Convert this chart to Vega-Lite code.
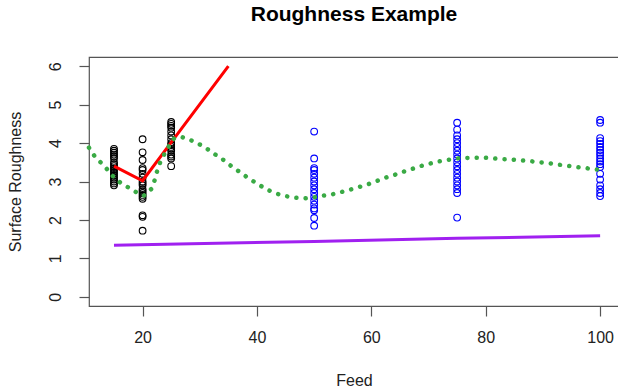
{
  "$schema": "https://vega.github.io/schema/vega-lite/v6.json",
  "autosize": "none",
  "width": 530,
  "height": 249,
  "padding": {"left": 89, "top": 57, "right": 0, "bottom": 86},
  "background": "white",
  "config": {
    "font": "Liberation Sans",
    "view": {"stroke": "#555555", "strokeWidth": 1.2},
    "axis": {"grid": false, "domain": false, "tickColor": "#555555", "tickSize": 10, "tickWidth": 1.2,
             "labelFont": "Liberation Sans", "labelFontSize": 16, "labelColor": "#222222",
             "titleFont": "Liberation Sans", "titleFontSize": 16, "titleFontWeight": "normal", "titleColor": "#222222"}
  },
  "title": {"text": "Roughness Example", "fontSize": 21, "fontWeight": "bold", "font": "Liberation Sans", "color": "#000000", "offset": 32, "anchor": "middle"},
  "datasets": {
    "pts": [
      {"feed": 15, "rough": 3.85, "grp": "a"}, {"feed": 15, "rough": 3.8, "grp": "a"}, {"feed": 15, "rough": 3.75, "grp": "a"},
      {"feed": 15, "rough": 3.7, "grp": "a"}, {"feed": 15, "rough": 3.65, "grp": "a"}, {"feed": 15, "rough": 3.6, "grp": "a"},
      {"feed": 15, "rough": 3.5, "grp": "a"}, {"feed": 15, "rough": 3.45, "grp": "a"}, {"feed": 15, "rough": 3.4, "grp": "a"},
      {"feed": 15, "rough": 3.35, "grp": "a"}, {"feed": 15, "rough": 3.3, "grp": "a"}, {"feed": 15, "rough": 3.25, "grp": "a"},
      {"feed": 15, "rough": 3.2, "grp": "a"}, {"feed": 15, "rough": 3.15, "grp": "a"}, {"feed": 15, "rough": 3.1, "grp": "a"},
      {"feed": 15, "rough": 3.05, "grp": "a"}, {"feed": 15, "rough": 3.0, "grp": "a"}, {"feed": 15, "rough": 2.95, "grp": "a"},
      {"feed": 15, "rough": 2.9, "grp": "a"},
      {"feed": 20, "rough": 4.1, "grp": "a"}, {"feed": 20, "rough": 3.76, "grp": "a"}, {"feed": 20, "rough": 3.56, "grp": "a"},
      {"feed": 20, "rough": 3.35, "grp": "a"}, {"feed": 20, "rough": 3.3, "grp": "a"}, {"feed": 20, "rough": 3.2, "grp": "a"},
      {"feed": 20, "rough": 3.1, "grp": "a"}, {"feed": 20, "rough": 3.0, "grp": "a"}, {"feed": 20, "rough": 2.95, "grp": "a"},
      {"feed": 20, "rough": 2.9, "grp": "a"}, {"feed": 20, "rough": 2.8, "grp": "a"}, {"feed": 20, "rough": 2.75, "grp": "a"},
      {"feed": 20, "rough": 2.7, "grp": "a"}, {"feed": 20, "rough": 2.65, "grp": "a"}, {"feed": 20, "rough": 2.6, "grp": "a"},
      {"feed": 20, "rough": 2.55, "grp": "a"}, {"feed": 20, "rough": 2.12, "grp": "a"}, {"feed": 20, "rough": 2.08, "grp": "a"},
      {"feed": 20, "rough": 1.72, "grp": "a"},
      {"feed": 25, "rough": 4.55, "grp": "a"}, {"feed": 25, "rough": 4.5, "grp": "a"}, {"feed": 25, "rough": 4.45, "grp": "a"},
      {"feed": 25, "rough": 4.4, "grp": "a"}, {"feed": 25, "rough": 4.3, "grp": "a"}, {"feed": 25, "rough": 4.2, "grp": "a"},
      {"feed": 25, "rough": 4.1, "grp": "a"}, {"feed": 25, "rough": 4.0, "grp": "a"}, {"feed": 25, "rough": 3.95, "grp": "a"},
      {"feed": 25, "rough": 3.9, "grp": "a"}, {"feed": 25, "rough": 3.85, "grp": "a"}, {"feed": 25, "rough": 3.8, "grp": "a"},
      {"feed": 25, "rough": 3.7, "grp": "a"}, {"feed": 25, "rough": 3.65, "grp": "a"}, {"feed": 25, "rough": 3.6, "grp": "a"},
      {"feed": 25, "rough": 3.4, "grp": "a"},
      {"feed": 50, "rough": 4.3, "grp": "b"}, {"feed": 50, "rough": 3.6, "grp": "b"}, {"feed": 50, "rough": 3.35, "grp": "b"},
      {"feed": 50, "rough": 3.3, "grp": "b"}, {"feed": 50, "rough": 3.2, "grp": "b"}, {"feed": 50, "rough": 3.1, "grp": "b"},
      {"feed": 50, "rough": 3.0, "grp": "b"}, {"feed": 50, "rough": 2.9, "grp": "b"}, {"feed": 50, "rough": 2.8, "grp": "b"},
      {"feed": 50, "rough": 2.7, "grp": "b"}, {"feed": 50, "rough": 2.6, "grp": "b"}, {"feed": 50, "rough": 2.5, "grp": "b"},
      {"feed": 50, "rough": 2.4, "grp": "b"}, {"feed": 50, "rough": 2.3, "grp": "b"}, {"feed": 50, "rough": 2.25, "grp": "b"},
      {"feed": 50, "rough": 2.05, "grp": "b"}, {"feed": 50, "rough": 1.85, "grp": "b"},
      {"feed": 75, "rough": 4.53, "grp": "b"}, {"feed": 75, "rough": 4.35, "grp": "b"}, {"feed": 75, "rough": 4.2, "grp": "b"},
      {"feed": 75, "rough": 4.1, "grp": "b"}, {"feed": 75, "rough": 4.0, "grp": "b"}, {"feed": 75, "rough": 3.9, "grp": "b"},
      {"feed": 75, "rough": 3.8, "grp": "b"}, {"feed": 75, "rough": 3.7, "grp": "b"}, {"feed": 75, "rough": 3.6, "grp": "b"},
      {"feed": 75, "rough": 3.5, "grp": "b"}, {"feed": 75, "rough": 3.4, "grp": "b"}, {"feed": 75, "rough": 3.3, "grp": "b"},
      {"feed": 75, "rough": 3.2, "grp": "b"}, {"feed": 75, "rough": 3.1, "grp": "b"}, {"feed": 75, "rough": 3.0, "grp": "b"},
      {"feed": 75, "rough": 2.9, "grp": "b"}, {"feed": 75, "rough": 2.8, "grp": "b"}, {"feed": 75, "rough": 2.7, "grp": "b"},
      {"feed": 75, "rough": 2.06, "grp": "b"},
      {"feed": 100, "rough": 4.6, "grp": "b"}, {"feed": 100, "rough": 4.53, "grp": "b"}, {"feed": 100, "rough": 4.13, "grp": "b"},
      {"feed": 100, "rough": 4.05, "grp": "b"}, {"feed": 100, "rough": 3.98, "grp": "b"}, {"feed": 100, "rough": 3.9, "grp": "b"},
      {"feed": 100, "rough": 3.82, "grp": "b"}, {"feed": 100, "rough": 3.75, "grp": "b"}, {"feed": 100, "rough": 3.68, "grp": "b"},
      {"feed": 100, "rough": 3.6, "grp": "b"}, {"feed": 100, "rough": 3.52, "grp": "b"}, {"feed": 100, "rough": 3.45, "grp": "b"},
      {"feed": 100, "rough": 3.38, "grp": "b"}, {"feed": 100, "rough": 3.2, "grp": "b"}, {"feed": 100, "rough": 3.05, "grp": "b"},
      {"feed": 100, "rough": 2.9, "grp": "b"}, {"feed": 100, "rough": 2.8, "grp": "b"}, {"feed": 100, "rough": 2.7, "grp": "b"},
      {"feed": 100, "rough": 2.62, "grp": "b"}
    ],
    "red": [
      {"feed": 15, "rough": 3.4}, {"feed": 20, "rough": 3.02}, {"feed": 25, "rough": 4.02}, {"feed": 35, "rough": 6.0}
    ],
    "purple": [
      {"feed": 15, "rough": 1.34}, {"feed": 50, "rough": 1.44}, {"feed": 75, "rough": 1.52}, {"feed": 100, "rough": 1.59}
    ],
    "green": [
      {"feed": 10.63, "rough": 3.88}, {"feed": 11.6, "rough": 3.66}, {"feed": 13.5, "rough": 3.37}, {"feed": 14.8, "rough": 3.14},
      {"feed": 16.1, "rough": 2.97}, {"feed": 17.45, "rough": 2.85}, {"feed": 18.9, "rough": 2.72}, {"feed": 20.2, "rough": 2.63},
      {"feed": 21.5, "rough": 2.8}, {"feed": 22.1, "rough": 3.03}, {"feed": 22.5, "rough": 3.25}, {"feed": 23.1, "rough": 3.51},
      {"feed": 23.9, "rough": 3.74}, {"feed": 24.8, "rough": 3.97}, {"feed": 25.5, "rough": 4.12}, {"feed": 26.8, "rough": 4.16},
      {"feed": 28.2, "rough": 4.09}, {"feed": 29.7, "rough": 3.99}, {"feed": 31.2, "rough": 3.86}, {"feed": 32.4, "rough": 3.73},
      {"feed": 33.8, "rough": 3.6}, {"feed": 35.05, "rough": 3.45}, {"feed": 36.4, "rough": 3.31}, {"feed": 37.7, "rough": 3.17},
      {"feed": 39.0, "rough": 3.04}, {"feed": 40.4, "rough": 2.91}, {"feed": 41.75, "rough": 2.79}, {"feed": 43.3, "rough": 2.69},
      {"feed": 45.0, "rough": 2.62}, {"feed": 46.5, "rough": 2.58}, {"feed": 48.2, "rough": 2.56}, {"feed": 49.7, "rough": 2.58},
      {"feed": 51.4, "rough": 2.63}, {"feed": 53.0, "rough": 2.66}, {"feed": 54.6, "rough": 2.72}, {"feed": 56.1, "rough": 2.78},
      {"feed": 57.7, "rough": 2.85}, {"feed": 59.3, "rough": 2.92}, {"feed": 60.9, "rough": 3.01}, {"feed": 62.5, "rough": 3.1},
      {"feed": 64.0, "rough": 3.17}, {"feed": 65.5, "rough": 3.25}, {"feed": 67.0, "rough": 3.32}, {"feed": 68.6, "rough": 3.4},
      {"feed": 70.1, "rough": 3.46}, {"feed": 71.7, "rough": 3.52}, {"feed": 73.3, "rough": 3.56}, {"feed": 74.9, "rough": 3.6},
      {"feed": 76.5, "rough": 3.61}, {"feed": 78.1, "rough": 3.62}, {"feed": 79.8, "rough": 3.62}, {"feed": 81.4, "rough": 3.6},
      {"feed": 83.0, "rough": 3.58}, {"feed": 84.6, "rough": 3.57}, {"feed": 86.2, "rough": 3.55}, {"feed": 87.8, "rough": 3.53},
      {"feed": 89.4, "rough": 3.5}, {"feed": 91.0, "rough": 3.48}, {"feed": 92.6, "rough": 3.44}, {"feed": 94.3, "rough": 3.41},
      {"feed": 95.8, "rough": 3.38}, {"feed": 97.4, "rough": 3.35}, {"feed": 99.0, "rough": 3.32}, {"feed": 100, "rough": 3.3}
    ]
  },
  "encoding": {
    "x": {"field": "feed", "type": "quantitative",
          "scale": {"domain": [10.63, 103.3], "nice": false, "zero": false},
          "axis": {"title": "Feed", "values": [20, 40, 60, 80, 100], "labelPadding": 13, "titlePadding": 40, "titleBaseline": "alphabetic"}},
    "y": {"field": "rough", "type": "quantitative",
          "scale": {"domain": [-0.24, 6.24], "nice": false, "zero": false},
          "axis": {"title": "Surface Roughness", "values": [0, 1, 2, 3, 4, 5, 6], "labelAngle": 270, "labelAlign": "center", "labelBaseline": "bottom", "labelPadding": 16, "titlePadding": 24}}
  },
  "layer": [
    {"data": {"name": "purple"}, "mark": {"type": "line", "color": "#a020f0", "strokeWidth": 3}},
    {"data": {"name": "pts"}, "mark": {"type": "point", "shape": "circle", "filled": false, "size": 45, "strokeWidth": 1.1, "opacity": 1},
     "encoding": {"color": {"field": "grp", "type": "nominal", "scale": {"domain": ["a", "b"], "range": ["#000000", "#0000ff"]}, "legend": null}}},
    {"data": {"name": "red"}, "mark": {"type": "line", "color": "#ff0000", "strokeWidth": 3}},
    {"data": {"name": "green"}, "mark": {"type": "line", "color": "#3aaa45", "strokeWidth": 4.5, "strokeCap": "round", "strokeDash": [0.1, 9.2]}}
  ]
}
